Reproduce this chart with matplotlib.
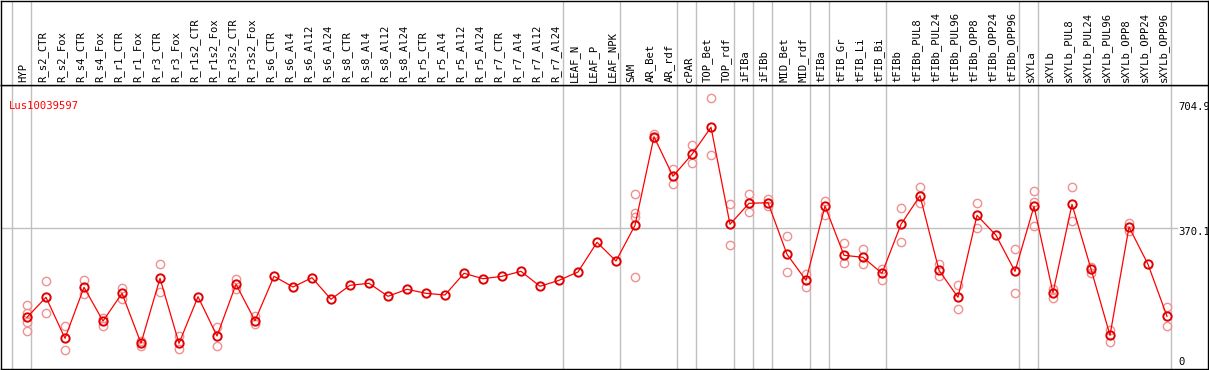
import matplotlib
matplotlib.use("Agg")
import matplotlib.pyplot as plt

categories = ["HYP", "R_s2_CTR", "R_s2_Fox", "R_s4_CTR", "R_s4_Fox", "R_r1_CTR", "R_r1_Fox",
              "R_r3_CTR", "R_r3_Fox", "R_r1s2_CTR", "R_r1s2_Fox", "R_r3s2_CTR", "R_r3s2_Fox",
              "R_s6_CTR", "R_s6_Al4", "R_s6_Al12", "R_s6_Al24", "R_s8_CTR", "R_s8_Al4",
              "R_s8_Al12", "R_s8_Al24", "R_r5_CTR", "R_r5_Al4", "R_r5_Al12", "R_r5_Al24",
              "R_r7_CTR", "R_r7_Al4", "R_r7_Al12", "R_r7_Al24", "LEAF_N", "LEAF_P", "LEAF_NPK",
              "SAM", "AR_Bet", "AR_rdf", "cPAR", "TOP_Bet", "TOP_rdf", "iFIBa", "iFIBb",
              "MID_Bet", "MID_rdf", "tFIBa", "tFIB_Gr", "tFIB_Li", "tFIB_Bi", "tFIBb",
              "tFIBb_PUL8", "tFIBb_PUL24", "tFIBb_PUL96", "tFIBb_OPP8", "tFIBb_OPP24",
              "tFIBb_OPP96", "sXYLa", "sXYLb", "sXYLb_PUL8", "sXYLb_PUL24", "sXYLb_PUL96",
              "sXYLb_OPP8", "sXYLb_OPP24", "sXYLb_OPP96"]

means = [131.0, 184.5, 74.7, 211.3, 121.0, 195.2, 61.3, 235.4, 61.3, 186.1, 80.9, 219.3, 121.8,
         240.8, 212.1, 237.0, 179.2, 216.7, 222.0, 187.2, 205.9, 195.2, 190.7, 248.8, 234.3,
         240.8, 254.1, 214.0, 230.0, 252.3, 331.8, 281.7, 377.3, 614.6, 508.6, 567.5, 639.8,
         380.0, 436.2, 437.9, 299.7, 230.0, 429.0, 297.0, 291.6, 248.8, 380.0, 456.6, 256.8,
         184.5, 404.1, 350.6, 254.1, 428.2, 196.8, 433.6, 260.3, 82.8, 372.8, 272.9, 133.6]

replicates = [
    [163.9, 142.5, 118.4, 94.3], [227.4, 142.5], [106.9, 42.6], [230.8, 192.5], [129.9, 107.7],
    [208.6, 180.8], [67.5, 54.1], [272.9, 199.5], [80.9, 45.3], [], [104.2, 54.9],
    [232.7, 206.7], [135.2, 113.8], [], [], [], [], [], [], [], [], [], [], [], [], [], [], [],
    [], [], [], [], [460.3, 409.5, 400.4, 238.1], [621.8, 610.3], [527.3, 488.7],
    [591.6, 543.4], [717.4, 564.8], [435.2, 323.8], [460.3, 412.1], [447.0, 429.0],
    [347.9, 251.5], [247.7, 211.3], [442.4, 404.9], [330.7, 277.2], [313.1, 272.9],
    [261.1, 230.0], [422.9, 333.4], [479.1, 436.2], [274.5, 242.4], [216.7, 152.4],
    [436.2, 370.9], [], [313.1, 195.2], [468.4, 440.5, 376.3], [205.9, 183.4],
    [479.1, 388.0], [266.5, 250.4], [96.9, 65.6], [382.7, 362.9], [], [157.7, 108.5]]

gene_id = "Lus10039597"
ytick_values = [704.9, 370.1, 0]
ytick_labels = ["704.9", "370.1", "0"]
group_ends = [-1, 0, 28, 31, 34, 35, 37, 38, 39, 41, 42, 45, 52, 53, 60]

W, H = 1209, 370
fig = plt.figure(figsize=(W / 100, H / 100), dpi=100)

# pixel geometry
px_first, px_step = 27, 19
left_px, right_px = 1, 1208
plot_top, plot_bot = 85, 369
x0 = (left_px - px_first) / px_step
x1 = (right_px - px_first) / px_step
ylo, yhi = -7.5, 753.1

ax = fig.add_axes([left_px / W, (H - plot_bot) / H, (right_px - left_px) / W,
                   (plot_bot - plot_top) / H])
hx = fig.add_axes([left_px / W, (H - plot_top) / H, (right_px - left_px) / W,
                   (plot_top - 0.5) / H])

for a in (ax, hx):
    a.set_xlim(x0, x1)
    a.set_xticks([])
    a.set_yticks([])
    for s in a.spines.values():
        s.set_color("black")
        s.set_linewidth(1.0)
    for g in group_ends:
        a.axvline(g + 4 / px_step, color="#c0c0c0", lw=1.0, zorder=1)
ax.set_ylim(ylo, yhi)
hx.set_ylim(0, 1)

xs = list(range(len(categories)))

# horizontal reference line
ax.plot([x0, (1177 - px_first) / px_step], [370.1, 370.1], color="#c0c0c0", lw=1.0, zorder=1)

# replicate points
for i, reps in enumerate(replicates):
    if reps:
        ax.plot([i] * len(reps), reps, linestyle="none", marker="o", ms=6.0, mfc="none",
                mec="#f09090", mew=1.0, zorder=2)

# mean line
ax.plot(xs, means, color="red", lw=0.9, marker="o", ms=6.0, mfc="none", mec="#e00000",
        mew=1.4, zorder=3)

mono = "DejaVu Sans Mono"
# gene id
ax.text((9 - px_first) / px_step, 697, gene_id, color="red", fontsize=7.6, family=mono,
        ha="left", va="center")

# y labels on right
label_x = (1178 - px_first) / px_step
offsets = [-4, -4, 4]
for v, lab, off in zip(ytick_values, ytick_labels, offsets):
    ax.annotate(lab, xy=(label_x, v), xytext=(0, off * 0.72), textcoords="offset points",
                fontsize=7.6, family=mono, ha="left", va="center", color="black")

# category labels in header
for i, c in enumerate(categories):
    hx.text(i - 0.18, 3 / 85, c, rotation=90, fontsize=7.6, family=mono, ha="center",
            va="bottom", color="black")

fig.savefig("out.png", dpi=100)
